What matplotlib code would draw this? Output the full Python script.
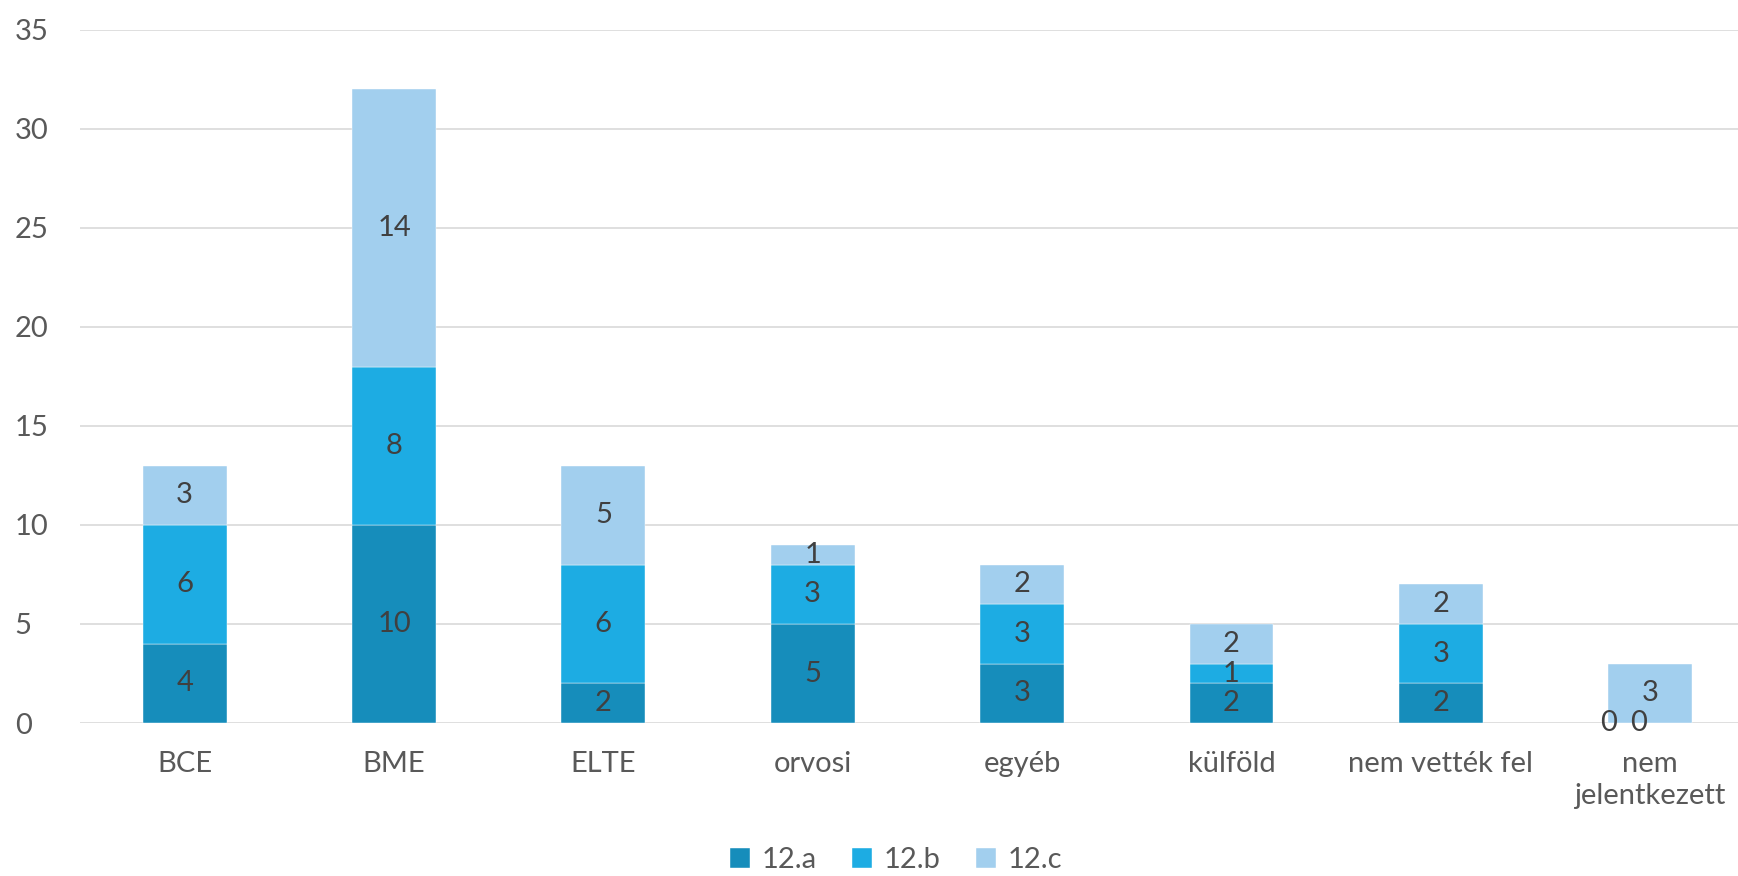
#!/usr/bin/env python3
"""Stacked bar chart: where the 12th graders went."""
import matplotlib
matplotlib.use("Agg")
import matplotlib.pyplot as plt
import numpy as np

plt.rcParams["font.family"] = ["Lato", "DejaVu Sans"]

categories = ["BCE", "BME", "ELTE", "orvosi", "egyéb", "külföld",
              "nem vették fel", "nem\njelentkezett"]
series_names = ["12.a", "12.b", "12.c"]
vals_a = [4, 10, 2, 5, 3, 2, 2, 0]
vals_b = [6, 8, 6, 3, 3, 1, 3, 0]
vals_c = [3, 14, 5, 1, 2, 2, 2, 3]
yticks = [0, 5, 10, 15, 20, 25, 30, 35]

COLORS = ["#168DBB", "#1DACE3", "#A2CFEE"]
TXT = "#595959"
LBL = "#404040"
FS = 21

W, H = 1738, 876
fig = plt.figure(figsize=(W / 100, H / 100), dpi=100)
ax = fig.add_axes([80 / W, 1 - 723 / H, (W - 80) / W, (723 - 30) / H])

x = np.arange(len(categories))
bottom = np.zeros(len(categories))
for name, vals, col in zip(series_names, [vals_a, vals_b, vals_c], COLORS):
    vals = np.array(vals, dtype=float)
    ax.bar(x, vals, 0.40, bottom=bottom, color=col, label=name, zorder=2,
           edgecolor="white", linewidth=0.3)
    bottom += vals

# data labels (Excel nudges the overlapping zero labels sideways)
bottom = np.zeros(len(categories))
zero_shift = {0: -30, 1: -8}
for si, vals in enumerate([vals_a, vals_b, vals_c]):
    for i, v in enumerate(vals):
        yc = bottom[i] + v / 2
        dx = zero_shift.get(si, 0) if v == 0 else 0
        ax.annotate(str(v), (x[i], yc), xytext=(dx, 0), textcoords="offset points",
                    ha="center", va="center", fontsize=FS, color=LBL, zorder=3)
        bottom[i] += v

ax.set_ylim(0, 35)
ax.set_yticks(yticks)
ax.set_xlim(-0.5, 7.42)
ax.set_xticks(x)
ax.set_xticklabels(categories, linespacing=1.3)
ax.tick_params(axis="both", length=0, labelsize=FS, colors=TXT)
ax.tick_params(axis="x", pad=20)
ax.tick_params(axis="y", pad=47)
for lab in ax.get_yticklabels():
    lab.set_horizontalalignment("left")
ax.grid(axis="y", color="#D9D9D9", linewidth=1.2, zorder=0)
for s in ax.spines.values():
    s.set_visible(False)

ax.legend(loc="center", bbox_to_anchor=(896 / W, 1 - 860 / H),
          bbox_transform=fig.transFigure, ncol=3, frameon=False,
          fontsize=FS, labelcolor=TXT, handlelength=0.7, handleheight=0.7,
          handletextpad=0.4, columnspacing=1.2)

fig.savefig("out.png", dpi=100)
